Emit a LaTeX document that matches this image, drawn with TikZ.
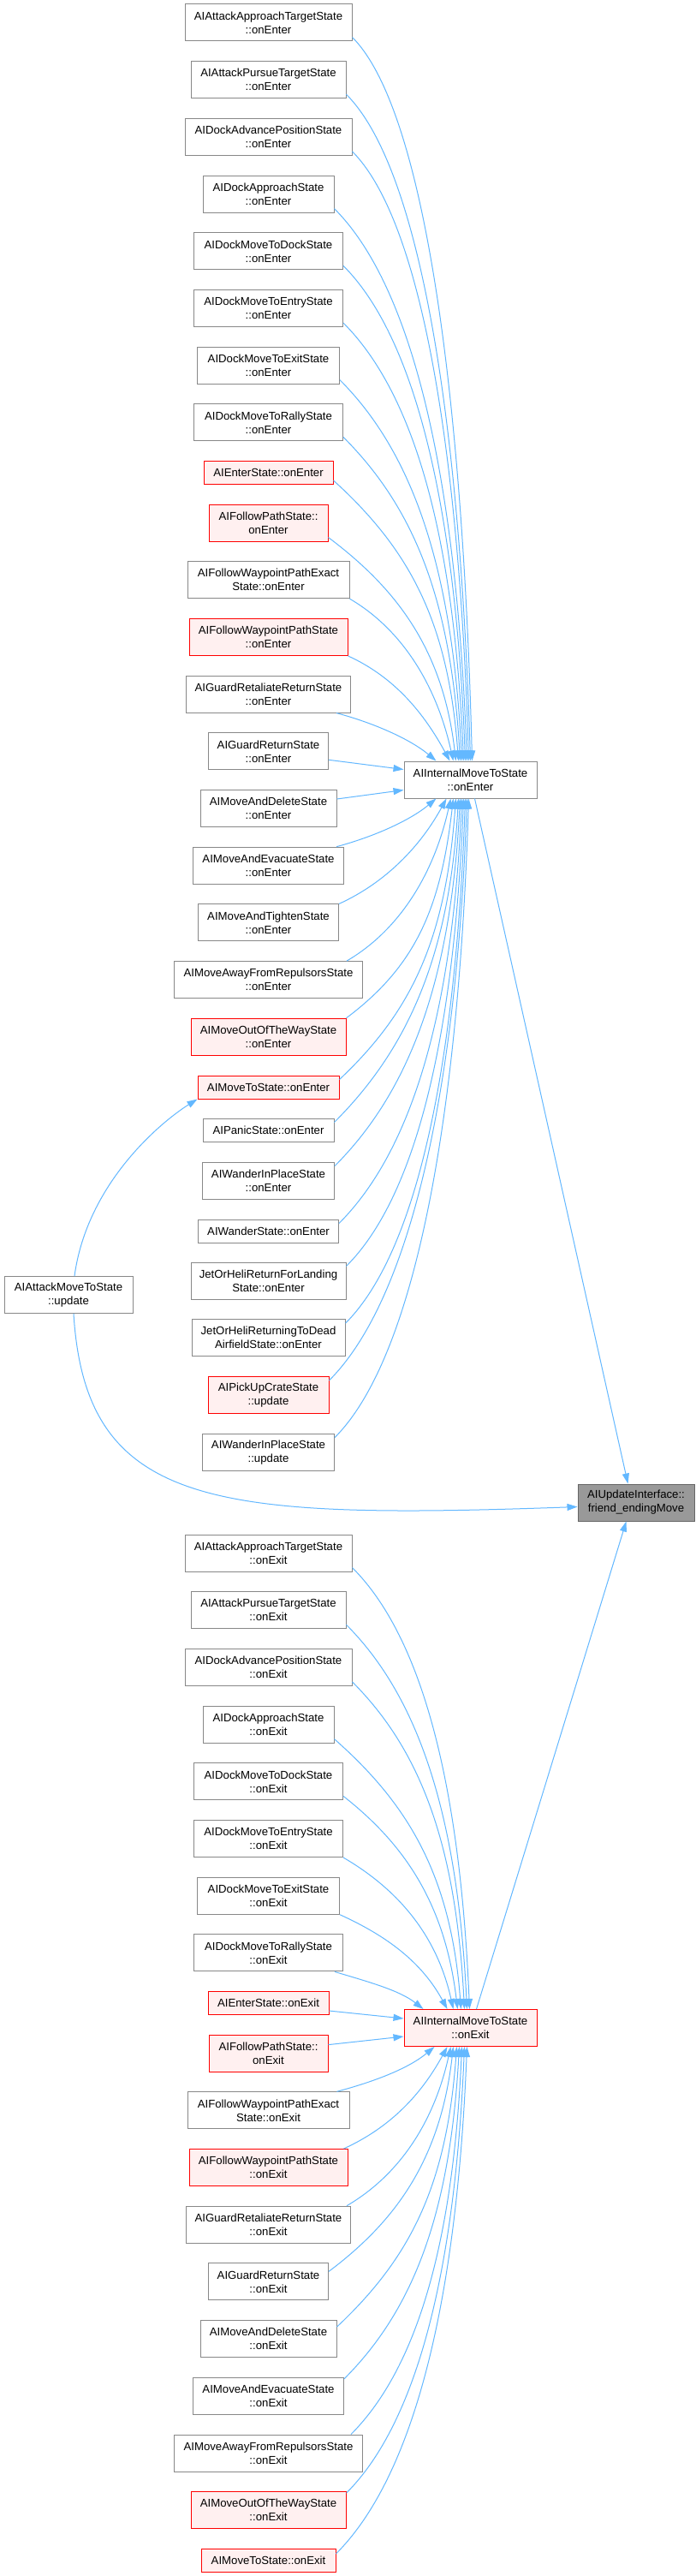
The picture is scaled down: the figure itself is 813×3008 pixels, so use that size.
\documentclass[tikz,border=0pt]{standalone}
\usepackage{fontspec}
\setmainfont{Liberation Sans}
\usetikzlibrary{arrows.meta,calc}
\newcommand\dxfont{\fontsize{13.2}{16}\selectfont}
\definecolor{edgeblue}{HTML}{63B8FF}
\definecolor{nodegray}{HTML}{888888}
\definecolor{redfill}{HTML}{FFF0F0}
\definecolor{rootfill}{HTML}{999999}
\definecolor{rootline}{HTML}{666666}
\begin{document}
\begin{tikzpicture}[x=1pt,y=-1pt,
  nb/.style={draw=nodegray, fill=white, line width=1pt, inner sep=0pt, align=center, font=\dxfont, minimum height=43pt},
  nbs/.style={nb, minimum height=27pt},
  nred/.style={draw=red, fill=redfill},
  nroot/.style={draw=rootline, fill=rootfill},
  edge/.style={draw=edgeblue, line width=1pt, -{Triangle[length=12pt,width=8pt]}}]
\useasboundingbox[fill=white] (0,0) rectangle (813,3008);
% top group
\node[nb, minimum width=195pt] (a01) at (313.5,26.5) {AIAttackApproachTargetState\\::onEnter};
\node[nb, minimum width=181pt] (a02) at (313.5,93.2) {AIAttackPursueTargetState\\::onEnter};
\node[nb, minimum width=195pt] (a03) at (313.5,159.9) {AIDockAdvancePositionState\\::onEnter};
\node[nb, minimum width=153pt] (a04) at (313.5,226.6) {AIDockApproachState\\::onEnter};
\node[nb, minimum width=174pt] (a05) at (313.5,293.3) {AIDockMoveToDockState\\::onEnter};
\node[nb, minimum width=174pt] (a06) at (313.5,360) {AIDockMoveToEntryState\\::onEnter};
\node[nb, minimum width=166pt] (a07) at (313.5,426.7) {AIDockMoveToExitState\\::onEnter};
\node[nb, minimum width=174pt] (a08) at (313.5,493.4) {AIDockMoveToRallyState\\::onEnter};
\node[nbs, nred, minimum width=151pt] (a09) at (313.5,552) {AIEnterState::onEnter};
\node[nb, nred, minimum width=139pt] (a10) at (313.5,610.5) {AIFollowPathState::\\onEnter};
\node[nb, minimum width=189pt] (a11) at (313.5,677.2) {AIFollowWaypointPathExact\\State::onEnter};
\node[nb, nred, minimum width=185pt] (a12) at (313.5,743.9) {AIFollowWaypointPathState\\::onEnter};
\node[nb, minimum width=192pt] (a13) at (313.5,810.6) {AIGuardRetaliateReturnState\\::onEnter};
\node[nb, minimum width=140pt] (a14) at (313.5,877.3) {AIGuardReturnState\\::onEnter};
\node[nb, minimum width=159pt] (a15) at (313.5,944) {AIMoveAndDeleteState\\::onEnter};
\node[nb, minimum width=176pt] (a16) at (313.5,1010.7) {AIMoveAndEvacuateState\\::onEnter};
\node[nb, minimum width=164pt] (a17) at (313.5,1077.4) {AIMoveAndTightenState\\::onEnter};
\node[nb, minimum width=220pt] (a18) at (313.5,1144.1) {AIMoveAwayFromRepulsorsState\\::onEnter};
\node[nb, nred, minimum width=181pt] (a19) at (313.5,1210.8) {AIMoveOutOfTheWayState\\::onEnter};
\node[nbs, nred, minimum width=165pt] (a20) at (313.5,1269.5) {AIMoveToState::onEnter};
\node[nbs, minimum width=153pt] (a21) at (313.5,1319.5) {AIPanicState::onEnter};
\node[nb, minimum width=154pt] (a22) at (313.5,1378.5) {AIWanderInPlaceState\\::onEnter};
\node[nbs, minimum width=164pt] (a23) at (313.5,1437.5) {AIWanderState::onEnter};
\node[nb, minimum width=181pt] (a24) at (313.5,1495.5) {JetOrHeliReturnForLanding\\State::onEnter};
\node[nb, minimum width=179pt] (a25) at (313.5,1562.2) {JetOrHeliReturningToDead\\AirfieldState::onEnter};
\node[nb, nred, minimum width=141pt] (a26) at (313.5,1628.9) {AIPickUpCrateState\\::update};
\node[nb, minimum width=154pt] (a27) at (313.5,1695.6) {AIWanderInPlaceState\\::update};
% centre nodes
\node[nb, minimum width=155pt] (ie) at (549.5,910.5) {AIInternalMoveToState\\::onEnter};
\node[nb, nred, minimum width=155pt] (ix) at (549.5,2368) {AIInternalMoveToState\\::onExit};
\node[nb, nroot, minimum width=136pt] (upd) at (743,1754.5) {AIUpdateInterface::\\friend\_endingMove};
\node[nb, minimum width=150pt] (amu) at (80,1512) {AIAttackMoveToState\\::update};
% bottom group
\node[nb, minimum width=195pt] (b01) at (313.5,1813.5) {AIAttackApproachTargetState\\::onExit};
\node[nb, minimum width=181pt] (b02) at (313.5,1880.2) {AIAttackPursueTargetState\\::onExit};
\node[nb, minimum width=195pt] (b03) at (313.5,1946.9) {AIDockAdvancePositionState\\::onExit};
\node[nb, minimum width=153pt] (b04) at (313.5,2013.6) {AIDockApproachState\\::onExit};
\node[nb, minimum width=174pt] (b05) at (313.5,2080.3) {AIDockMoveToDockState\\::onExit};
\node[nb, minimum width=174pt] (b06) at (313.5,2147) {AIDockMoveToEntryState\\::onExit};
\node[nb, minimum width=166pt] (b07) at (313.5,2213.7) {AIDockMoveToExitState\\::onExit};
\node[nb, minimum width=174pt] (b08) at (313.5,2280.4) {AIDockMoveToRallyState\\::onExit};
\node[nbs, nred, minimum width=141pt] (b09) at (313.5,2339) {AIEnterState::onExit};
\node[nb, nred, minimum width=139pt] (b10) at (313.5,2397.6) {AIFollowPathState::\\onExit};
\node[nb, minimum width=189pt] (b11) at (313.5,2464.3) {AIFollowWaypointPathExact\\State::onExit};
\node[nb, nred, minimum width=185pt] (b12) at (313.5,2531) {AIFollowWaypointPathState\\::onExit};
\node[nb, minimum width=192pt] (b13) at (313.5,2597.7) {AIGuardRetaliateReturnState\\::onExit};
\node[nb, minimum width=140pt] (b14) at (313.5,2664.4) {AIGuardReturnState\\::onExit};
\node[nb, minimum width=159pt] (b15) at (313.5,2731.1) {AIMoveAndDeleteState\\::onExit};
\node[nb, minimum width=176pt] (b16) at (313.5,2797.8) {AIMoveAndEvacuateState\\::onExit};
\node[nb, minimum width=220pt] (b17) at (313.5,2864.5) {AIMoveAwayFromRepulsorsState\\::onExit};
\node[nb, nred, minimum width=181pt] (b18) at (313.5,2931.2) {AIMoveOutOfTheWayState\\::onExit};
\node[nbs, nred, minimum width=157pt] (b19) at (313.5,2990) {AIMoveToState::onExit};
% edges into ie (top)
\draw[edge] ([yshift=5pt]a01.south east) .. controls +(85,85) and +(-11,-423) .. ($(ie.north west)+(80,0)$);
\draw[edge] ([yshift=5pt]a02.south east) .. controls +(88,88) and +(-12,-390) .. ($(ie.north west)+(78,0)$);
\draw[edge] ([yshift=5pt]a03.south east) .. controls +(82,82) and +(-11,-356) .. ($(ie.north west)+(76,0)$);
\draw[edge] ([yshift=5pt]a04.south east) .. controls +(94,94) and +(-12,-323) .. ($(ie.north west)+(74,0)$);
\draw[edge] ([yshift=5pt]a05.south east) .. controls +(86,86) and +(-11,-290) .. ($(ie.north west)+(72,0)$);
\draw[edge] ([yshift=5pt]a06.south east) .. controls +(85,85) and +(-11,-256) .. ($(ie.north west)+(70,0)$);
\draw[edge] ([yshift=5pt]a07.south east) .. controls +(86,86) and +(-11,-223) .. ($(ie.north west)+(68,0)$);
\draw[edge] ([yshift=5pt]a08.south east) .. controls +(82,82) and +(-11,-190) .. ($(ie.north west)+(66,0)$);
\draw[edge] ([yshift=5pt]a09.south east) .. controls +(88,80) and +(-12,-164) .. ($(ie.north west)+(64,0)$);
\draw[edge] ([yshift=5pt]a10.south east) .. controls +(80,60) and +(-15,-130) .. ($(ie.north west)+(61,0)$);
\draw[edge] (a11.south east) .. controls +(60,35) and +(-20,-90) .. ($(ie.north west)+(58,0)$);
\draw[edge] (a12.south east) .. controls +(55,25) and +(-30,-55) .. ($(ie.north west)+(54,0)$);
\draw[edge] ([xshift=-17pt]a13.south east) .. controls +(45,12) and +(-30,-25) .. ($(ie.north west)+(38,0)$);
\draw[edge] ([yshift=-10pt]a14.east) -- ($(ie.west)+(0,-12)$);
\draw[edge] ([yshift=11pt]a15.east) -- ($(ie.west)+(0,12)$);
% edges into ie (bottom)
\draw[edge] ([xshift=-9pt]a16.north east) .. controls +(45,-12) and +(-30,25) .. ($(ie.south west)+(38,0)$);
\draw[edge] (a17.north east) .. controls +(55,-25) and +(-30,55) .. ($(ie.south west)+(50,0)$);
\draw[edge] ([xshift=-19pt]a18.north east) .. controls +(60,-35) and +(-20,90) .. ($(ie.south west)+(55,0)$);
\draw[edge] (a19.north east) .. controls +(80,-60) and +(-15,130) .. ($(ie.south west)+(58,0)$);
\draw[edge] ([yshift=-5pt]a20.north east) .. controls +(85,-80) and +(-12,164) .. ($(ie.south west)+(61,0)$);
\draw[edge] ([yshift=-5pt]a21.north east) .. controls +(82,-82) and +(-11,190) .. ($(ie.south west)+(64,0)$);
\draw[edge] ([yshift=-5pt]a22.north east) .. controls +(86,-86) and +(-11,215) .. ($(ie.south west)+(66,0)$);
\draw[edge] ([yshift=-5pt]a23.north east) .. controls +(85,-85) and +(-11,250) .. ($(ie.south west)+(68,0)$);
\draw[edge] ([yshift=-5pt]a24.north east) .. controls +(83,-83) and +(-11,273) .. ($(ie.south west)+(70,0)$);
\draw[edge] ([yshift=-5pt]a25.north east) .. controls +(85,-85) and +(-11,307) .. ($(ie.south west)+(72,0)$);
\draw[edge] ([yshift=-5pt]a26.north east) .. controls +(95,-95) and +(-12,340) .. ($(ie.south west)+(74,0)$);
\draw[edge] ([yshift=-5pt]a27.north east) .. controls +(94,-94) and +(-12,373) .. ($(ie.south west)+(76,0)$);
% edges to upd and from amu
\draw[edge] ($(ie.south west)+(83,0)$) -- ($(upd.north west)+(59,0)$);
\draw[edge] ($(ix.north west)+(85,0)$) -- ($(upd.south west)+(57,0)$);
\draw[edge] ([xshift=6pt]amu.south) .. controls +(14,227) and +(-425,15) .. ($(upd.west)+(0,5)$);
\draw[edge] ([xshift=7pt]amu.north) .. controls +(15,-110) and +(-40,25) .. (a20.south west);
% edges into ix (top)
\draw[edge] ([yshift=5pt]b01.south east) .. controls +(83,83) and +(-11,-258) .. ($(ix.north west)+(77,0)$);
\draw[edge] ([yshift=5pt]b02.south east) .. controls +(85,85) and +(-11,-225) .. ($(ix.north west)+(74,0)$);
\draw[edge] ([yshift=5pt]b03.south east) .. controls +(80,80) and +(-10,-192) .. ($(ix.north west)+(71,0)$);
\draw[edge] ([yshift=5pt]b04.south east) .. controls +(85,75) and +(-12,-158) .. ($(ix.north west)+(67,0)$);
\draw[edge] ([yshift=5pt]b05.south east) .. controls +(70,55) and +(-15,-125) .. ($(ix.north west)+(63,0)$);
\draw[edge] (b06.south east) .. controls +(60,35) and +(-20,-90) .. ($(ix.north west)+(58,0)$);
\draw[edge] (b07.south east) .. controls +(55,25) and +(-30,-55) .. ($(ix.north west)+(51,0)$);
\draw[edge] ([xshift=-10pt]b08.south east) .. controls +(40,12) and +(-28,-22) .. ($(ix.north west)+(23,0)$);
\draw[edge] ([yshift=-9pt]b09.east) -- ($(ix.west)+(0,-11)$);
\draw[edge] ([yshift=10pt]b10.east) -- ($(ix.west)+(0,10)$);
% edges into ix (bottom)
\draw[edge] ([xshift=-15pt]b11.north east) .. controls +(45,-12) and +(-30,25) .. ($(ix.south west)+(36,0)$);
\draw[edge] ([xshift=-5pt]b12.north east) .. controls +(55,-25) and +(-30,55) .. ($(ix.south west)+(51,0)$);
\draw[edge] ([xshift=-5pt]b13.north east) .. controls +(60,-35) and +(-20,90) .. ($(ix.south west)+(55,0)$);
\draw[edge] ([yshift=-10pt]b14.north east) .. controls +(80,-60) and +(-15,130) .. ($(ix.south west)+(58,0)$);
\draw[edge] ([yshift=-8pt]b15.north east) .. controls +(85,-80) and +(-12,164) .. ($(ix.south west)+(62,0)$);
\draw[edge] ([yshift=-2pt]b16.north east) .. controls +(81,-81) and +(-11,195) .. ($(ix.south west)+(65,0)$);
\draw[edge] ([xshift=-14pt]b17.north east) .. controls +(78,-78) and +(-10,226) .. ($(ix.south west)+(68,0)$);
\draw[edge] ([yshift=-2pt]b18.north east) .. controls +(83,-83) and +(-11,261) .. ($(ix.south west)+(71,0)$);
\draw[edge] ([yshift=-6pt]b19.north east) .. controls +(92,-92) and +(-12,296) .. ($(ix.south west)+(74,0)$);
\end{tikzpicture}
\end{document}
